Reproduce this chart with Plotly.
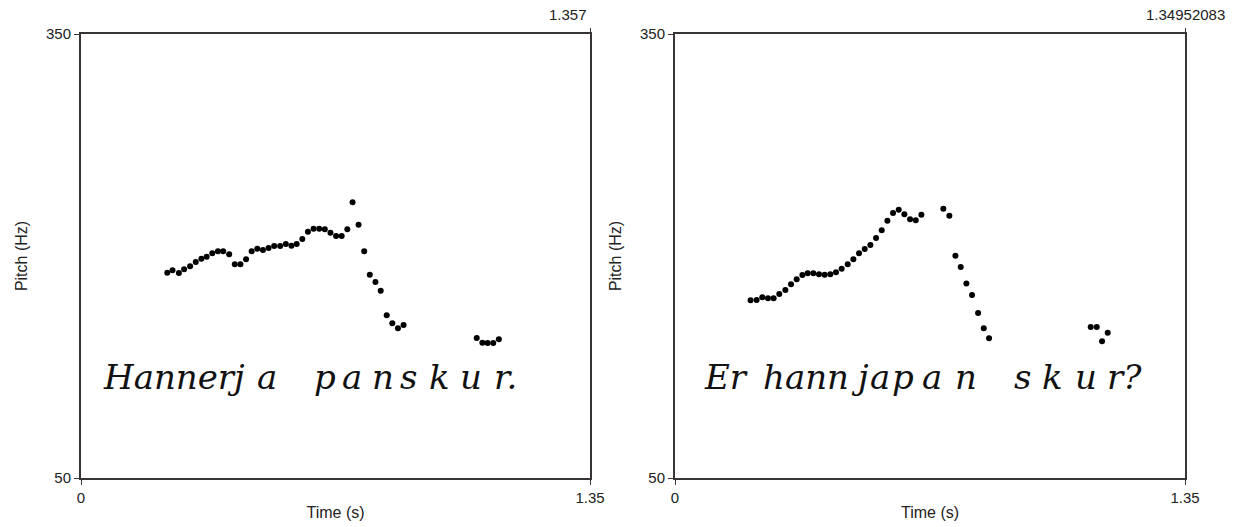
import plotly.graph_objects as go

# ---- data ----
t_left = [0.230, 0.244, 0.261, 0.275, 0.291, 0.306, 0.321, 0.335, 0.350, 0.365,
          0.379, 0.395, 0.410, 0.425, 0.440, 0.455, 0.470, 0.485, 0.500, 0.515,
          0.531, 0.546, 0.561, 0.575, 0.590, 0.605, 0.620, 0.635, 0.650, 0.665,
          0.680, 0.695, 0.710, 0.724, 0.740, 0.755, 0.770, 0.785, 0.799, 0.815,
          0.830, 0.845, 0.860, 1.055, 1.070, 1.084, 1.099, 1.114]
f0_left = [188.7, 190.3, 188.5, 191.0, 193.0, 195.9, 198.2, 199.5, 201.8, 203.2,
           203.2, 201.1, 194.4, 194.4, 197.8, 203.2, 204.9, 204.0, 205.4, 206.8,
           206.8, 208.1, 207.0, 208.1, 211.5, 216.4, 218.4, 218.4, 218.0, 215.7,
           213.5, 213.5, 218.0, 236.3, 221.1, 203.2, 187.4, 182.4, 176.5, 159.9,
           154.5, 151.1, 153.4, 144.6, 141.4, 141.2, 141.2, 143.7]

t_right = [0.200, 0.216, 0.231, 0.246, 0.261, 0.276, 0.292, 0.307, 0.322, 0.337,
           0.351, 0.366, 0.381, 0.396, 0.411, 0.426, 0.441, 0.457, 0.472, 0.487,
           0.502, 0.517, 0.532, 0.547, 0.562, 0.577, 0.592, 0.607, 0.622, 0.637,
           0.652, 0.710, 0.726, 0.742, 0.756, 0.771, 0.786, 0.802, 0.817, 0.831,
           1.100, 1.116, 1.130, 1.145]
f0_right = [170.1, 170.3, 172.1, 171.4, 171.4, 174.3, 177.0, 180.9, 184.3, 187.2,
            188.3, 188.3, 187.6, 187.4, 187.6, 189.0, 191.4, 194.4, 197.8, 201.8,
            204.7, 207.4, 212.2, 217.4, 223.9, 229.0, 231.3, 228.2, 224.8, 224.1,
            227.9, 232.0, 227.2, 200.2, 192.6, 181.5, 173.6, 161.5, 151.1, 144.4,
            152.0, 152.0, 142.4, 148.2]

x_end_left = 1.357
x_end_right = 1.34952083
x_tick_text = ["0", "1.35"]
y_range = [50, 350]
top_label_left = "1.357"
top_label_right = "1.34952083"

# text chunks (left-edge pixel positions are layout)
left_words = [("Hannerj", 101), ("a", 255), ("p", 312), ("a", 340), ("n", 370),
              ("s", 398), ("k", 427), ("u", 458), ("r.", 492)]
right_words = [("Er", 702), ("hann", 761), ("j", 849), ("a", 868), ("p", 890),
               ("a", 920), ("n", 953), ("s", 1012), ("k", 1040), ("u", 1073),
               ("r?", 1105)]

W, H = 1239, 527
FRAME = "#3a3535"
TXT = "#222222"
SANS = "Liberation Sans, Arial, sans-serif"


def px(x):
    return x / W


def py(y):
    return 1 - y / H


dom_y = [py(478), py(34)]
dom_x1 = [px(81), px(590)]
dom_x2 = [px(675), px(1185)]

fig = go.Figure()
fig.add_trace(go.Scatter(x=t_left, y=f0_left, mode="markers",
                         marker=dict(size=6, color="black"),
                         xaxis="x", yaxis="y", showlegend=False))
fig.add_trace(go.Scatter(x=t_right, y=f0_right, mode="markers",
                         marker=dict(size=6, color="black"),
                         xaxis="x2", yaxis="y2", showlegend=False))

axis_common = dict(showline=True, mirror=True, linecolor=FRAME, linewidth=2,
                   showgrid=False, zeroline=False, ticks="outside", ticklen=5,
                   tickwidth=1, tickcolor=FRAME, automargin=False,
                   tickfont=dict(family=SANS, size=15, color=TXT))
xtitle = dict(text="Time (s)", standoff=2, font=dict(family=SANS, size=16, color=TXT))
ytitle = dict(text="Pitch (Hz)", standoff=14, font=dict(family=SANS, size=16, color=TXT))

fig.update_layout(
    width=W, height=H, margin=dict(l=0, r=0, t=0, b=0),
    paper_bgcolor="white", plot_bgcolor="white",
    xaxis=dict(domain=dom_x1, range=[0, x_end_left], anchor="y",
               tickvals=[0, x_end_left], ticktext=x_tick_text,
               title=xtitle, **axis_common),
    yaxis=dict(domain=dom_y, range=y_range, anchor="x",
               tickvals=y_range, ticktext=[str(v) for v in y_range],
               title=ytitle, **axis_common),
    xaxis2=dict(domain=dom_x2, range=[0, x_end_right], anchor="y2",
                tickvals=[0, x_end_right], ticktext=x_tick_text,
                title=xtitle, **axis_common),
    yaxis2=dict(domain=dom_y, range=y_range, anchor="x2",
                tickvals=y_range, ticktext=[str(v) for v in y_range],
                title=ytitle, **axis_common),
    # top axes giving the small tick at the top-right corner
    xaxis3=dict(overlaying="x", side="top", anchor="y", range=[0, x_end_left],
                tickvals=[x_end_left], showticklabels=False, ticks="outside",
                ticklen=5, tickcolor=FRAME, showgrid=False, zeroline=False,
                showline=False, automargin=False),
    xaxis4=dict(overlaying="x2", side="top", anchor="y2", range=[0, x_end_right],
                tickvals=[x_end_right], showticklabels=False, ticks="outside",
                ticklen=5, tickcolor=FRAME, showgrid=False, zeroline=False,
                showline=False, automargin=False),
)

# empty traces to activate the top axes
fig.add_trace(go.Scatter(x=[], y=[], xaxis="x3", yaxis="y", showlegend=False))
fig.add_trace(go.Scatter(x=[], y=[], xaxis="x4", yaxis="y2", showlegend=False))

annotations = [
    dict(text=top_label_left, x=px(589), y=py(15), xref="paper", yref="paper",
         xanchor="right", yanchor="middle", showarrow=False,
         font=dict(family=SANS, size=15, color=TXT)),
    dict(text=top_label_right, x=px(1185), y=py(15), xref="paper", yref="paper",
         xanchor="center", yanchor="middle", showarrow=False,
         font=dict(family=SANS, size=15, color=TXT)),
]
for word, x0 in left_words + right_words:
    annotations.append(dict(text=word, x=px(x0), y=py(377), xref="paper", yref="paper",
                            xanchor="left", yanchor="middle", showarrow=False,
                            font=dict(family="DejaVu Serif", size=34, color="#111111",
                                      style="italic")))
fig.update_layout(annotations=annotations)

fig.write_html("out.html")
